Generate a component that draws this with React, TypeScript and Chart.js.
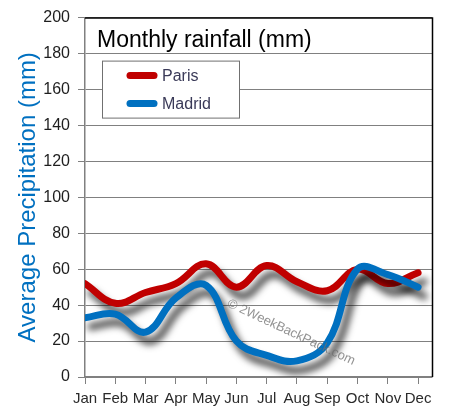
import React, { useEffect, useRef } from "react";
import { Chart, registerables } from "chart.js";

Chart.register(...registerables);

const months = ["Jan", "Feb", "Mar", "Apr", "May", "Jun", "Jul", "Aug", "Sep", "Oct", "Nov", "Dec"];
const parisRain = [52, 41, 47, 52, 63, 50, 62, 53, 48, 60, 52, 58];
const madridRain = [33, 35, 25, 44, 51, 20, 12, 9, 19, 60, 57, 50];
const yTicks = [0, 20, 40, 60, 80, 100, 120, 140, 160, 180, 200];
const chartTitle = "Monthly rainfall (mm)";
const yTitle = "Average Precipitation (mm)";
const watermark = "\u00A9 2WeekBackPack.com";

const FONT = "'Liberation Sans', Arial, sans-serif";

export default function App() {
  const ref = useRef<HTMLCanvasElement | null>(null);

  useEffect(() => {
    if (!ref.current) return;

    const shadowPlugin = {
      id: "shadow",
      beforeDatasetsDraw(chart: any) {
        const ctx = chart.ctx;
        ctx.save();
        ctx.shadowColor = "rgba(0,0,0,0.7)";
        ctx.shadowBlur = 7;
        ctx.shadowOffsetX = 6;
        ctx.shadowOffsetY = 9;
      },
      afterDatasetsDraw(chart: any) {
        chart.ctx.restore();
      },
    };

    const decoPlugin = {
      id: "deco",
      afterDraw(chart: any) {
        const ctx = chart.ctx;
        const a = chart.chartArea;
        ctx.save();
        // top and right border
        ctx.strokeStyle = "#000";
        ctx.lineWidth = 1.5;
        ctx.beginPath();
        ctx.moveTo(a.left, a.top + 0.5);
        ctx.lineTo(a.right + 0.5, a.top + 0.5);
        ctx.lineTo(a.right + 0.5, a.bottom);
        ctx.stroke();

        // title
        ctx.fillStyle = "#000";
        ctx.font = `23px ${FONT}`;
        ctx.textBaseline = "alphabetic";
        ctx.textAlign = "left";
        ctx.fillText(chartTitle, a.left + 12, a.top + 29);

        // legend
        const lx = a.left + 17, ly = a.top + 43, lw = 137, lh = 57;
        ctx.fillStyle = "#fff";
        ctx.fillRect(lx, ly, lw, lh);
        ctx.strokeStyle = "#707070";
        ctx.lineWidth = 1;
        ctx.strokeRect(lx + 0.5, ly + 0.5, lw, lh);
        const items = [chart.data.datasets[0], chart.data.datasets[1]];
        items.forEach((ds: any, i: number) => {
          const y = ly + 15 + i * 28;
          ctx.strokeStyle = ds.borderColor;
          ctx.lineWidth = 7;
          ctx.lineCap = "round";
          ctx.beginPath();
          ctx.moveTo(lx + 28, y);
          ctx.lineTo(lx + 52, y);
          ctx.stroke();
          ctx.fillStyle = "#3a3a58";
          ctx.font = `16px ${FONT}`;
          ctx.textBaseline = "middle";
          ctx.fillText(ds.label, lx + 60, y + 1);
        });

        // watermark
        ctx.translate(228, 303);
        ctx.rotate((25 * Math.PI) / 180);
        ctx.fillStyle = "rgba(110,110,110,0.75)";
        ctx.font = `13px ${FONT}`;
        ctx.textBaseline = "middle";
        ctx.fillText(watermark, 0, 0);
        ctx.restore();
      },
    };

    const chart = new Chart(ref.current, {
      type: "line",
      data: {
        datasets: [
          {
            label: "Paris",
            data: parisRain.map((v, i) => ({ x: i, y: v })),
            borderColor: "#c00000",
            borderWidth: 7,
            borderCapStyle: "round",
            borderJoinStyle: "round",
            pointRadius: 0,
            tension: 0.4,
            fill: false,
            order: 2,
          },
          {
            label: "Madrid",
            data: madridRain.map((v, i) => ({ x: i, y: v })),
            borderColor: "#0070c0",
            borderWidth: 7,
            borderCapStyle: "round",
            borderJoinStyle: "round",
            pointRadius: 0,
            tension: 0.4,
            fill: false,
            order: 1,
          },
        ],
      },
      options: {
        responsive: false,
        animation: false,
        layout: { padding: { top: 13, right: 20, left: 0, bottom: 0 } },
        plugins: {
          legend: { display: false },
          tooltip: { enabled: false },
          title: { display: false },
        },
        scales: {
          x: {
            type: "linear",
            min: 0,
            max: 11.46,
            afterBuildTicks(axis: any) {
              axis.ticks = months.map((_, i) => ({ value: i }));
            },
            afterFit(scale: any) {
              scale.height = 41;
            },
            ticks: {
              autoSkip: false,
              maxRotation: 0,
              padding: 6,
              color: "#2a2a2a",
              font: { family: FONT, size: 15 },
              callback: (v: any) => months[Math.round(Number(v))] ?? "",
            },
            grid: {
              drawOnChartArea: false,
              drawTicks: true,
              tickLength: 7,
              color: "#808080",
            },
            border: { color: "#808080", width: 1.5 },
          },
          y: {
            type: "linear",
            min: 0,
            max: 200,
            afterBuildTicks(axis: any) {
              axis.ticks = yTicks.map((v) => ({ value: v }));
            },
            afterFit(scale: any) {
              scale.width = 85;
            },
            ticks: {
              padding: 8,
              color: "#1e1e1e",
              font: { family: FONT, size: 16 },
            },
            grid: {
              color: "#808080",
              lineWidth: 1,
              tickLength: 7,
            },
            border: { color: "#808080", width: 1.5 },
            title: {
              display: true,
              text: yTitle,
              color: "#0070c0",
              font: { family: FONT, size: 24, lineHeight: 1 },
              padding: { top: 16, bottom: 0 },
            },
          },
        },
      } as any,
      plugins: [shadowPlugin, decoPlugin],
    });

    return () => chart.destroy();
  }, []);

  return (
    <div style={{ position: "fixed", left: 0, top: 0, width: 452, height: 418, background: "#fff" }}>
      <canvas ref={ref} width={452} height={418} style={{ display: "block" }} />
    </div>
  );
}
